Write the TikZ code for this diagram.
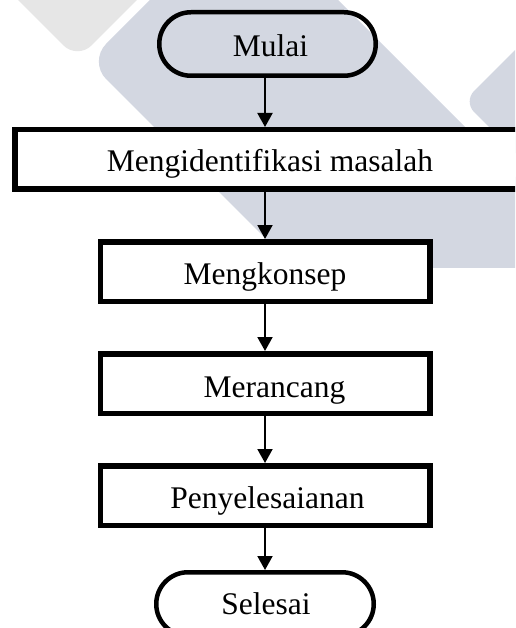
\documentclass[tikz,border=0pt]{standalone}
\usepackage{fontspec}
\setmainfont{Liberation Serif}
\usetikzlibrary{arrows.meta,calc}
\definecolor{markgray}{RGB}{230,230,230}
\definecolor{markblue}{RGB}{211,215,225}
\begin{document}
\begin{tikzpicture}[x=1pt,y=-1pt,
  procbox/.style={draw=black, fill=white, line width=5.5pt, rectangle,
    minimum height=59.5pt, inner sep=0pt},
  termbox/.style={draw=black, line width=4.5pt, rectangle,
    rounded corners=31.7pt, minimum height=63.5pt, minimum width=216.5pt,
    inner sep=0pt},
  lbl/.style={anchor=base, inner sep=0pt, font=\fontsize{31.5}{36}\selectfont},
  flow/.style={line width=2pt, -{Triangle[width=15pt,length=14pt]}}]

% page frame
\useasboundingbox (0,0) rectangle (515,628);
\clip (0,0) rectangle (515,628);
\fill[white] (0,0) rectangle (515,628);

% diagonal background bands
\begin{scope}
  \clip (0,0) rectangle (515,267);
  \fill[markgray, rounded corners=20pt]
    (-32,-50) -- (77.5,59.5) -- (187,-50) -- cycle;
  \fill[markblue, rounded corners=25pt]
    (200,-50) -- (288,-50) -- (700,362) -- (600,573) -- (88.5,61.5) -- cycle;
  \fill[markblue, rounded corners=15pt]
    (700,-135) -- (900,538) -- (463.5,101.5) -- cycle;
\end{scope}

% flowchart shapes (the wide box runs past the right margin)
\node[termbox] (mulai) at (267.5,44) {};
\node[procbox, minimum width=530pt] (ident) at (279.75,159.5) {};
\node[procbox, minimum width=329.5pt] (konsep) at (265,271.5) {};
\node[procbox, minimum width=329.5pt] (rancang) at (265,383.5) {};
\node[procbox, minimum width=329.5pt] (selesaikan) at (265,495.5) {};
\node[termbox, minimum width=217.5pt] (selesai) at (265,604) {};

% labels
\node[lbl] (tmulai) at ($(mulai.center)+(3,13)$) {Mulai};
\node[lbl] (tident) at ($(konsep.center |- ident.center)+(5,12.5)$) {Mengidentifikasi masalah};
\node[lbl] (tkonsep) at ($(konsep.center)+(0,12.5)$) {Mengkonsep};
\node[lbl] (trancang) at ($(rancang.center)+(9.5,13.5)$) {Merancang};
\node[lbl] (tselesaikan) at ($(selesaikan.center)+(2.5,12.5)$) {Penyelesaianan};
\node[lbl] (tselesai) at ($(selesai.center)+(1,10)$) {Selesai};

% connectors
\draw[flow] (mulai.south -| konsep.north) -- (ident.north -| konsep.north);
\draw[flow] (ident.south -| konsep.north) -- (konsep.north);
\draw[flow] (konsep.south) -- (rancang.north);
\draw[flow] (rancang.south) -- (selesaikan.north);
\draw[flow] (selesaikan.south) -- (selesai.north);
\end{tikzpicture}
\end{document}
